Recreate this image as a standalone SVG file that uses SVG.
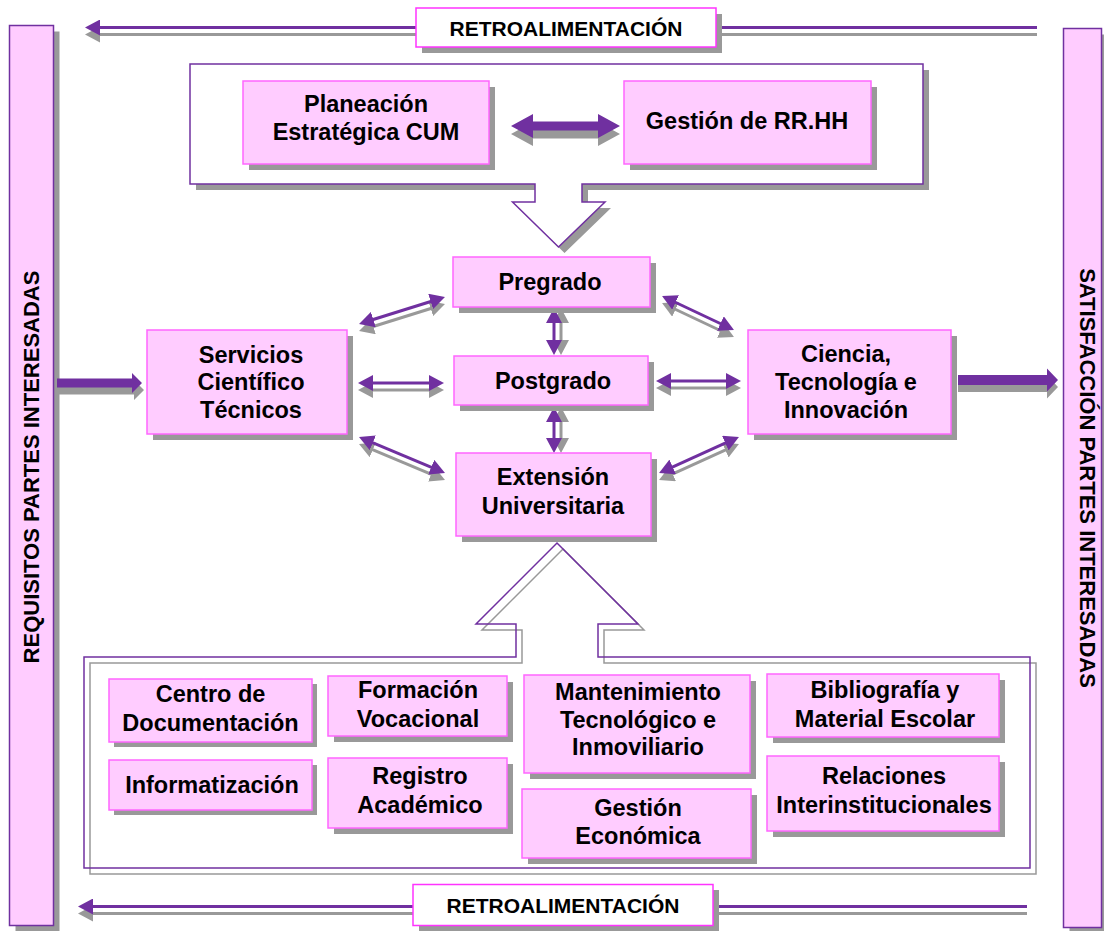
<svg xmlns="http://www.w3.org/2000/svg" width="1104" height="931" viewBox="0 0 1104 931">
<defs>
<style>
.bg{fill:#FFCCFF;stroke:#FF66FF;stroke-width:1.5}
.sh{fill:#999999}
.col{fill:#FFCCFF;stroke:#7030A0;stroke-width:1.5}
.lbl{fill:#FFFFFF;stroke:#FF33FF;stroke-width:1.5}
.t{font-family:"Liberation Sans",Arial,sans-serif;font-weight:bold;font-size:23.5px;fill:#000;text-anchor:middle}
.tl{font-family:"Liberation Sans",Arial,sans-serif;font-weight:bold;font-size:21px;fill:#000;text-anchor:middle}
.tv{font-family:"Liberation Sans",Arial,sans-serif;font-weight:bold;font-size:22px;fill:#000;text-anchor:middle}
.lp{stroke:#7030A0;stroke-width:3;fill:none}
.lg{stroke:#999999;stroke-width:3;fill:none}
.ap{fill:#7030A0}
</style>
<marker id="hp" markerUnits="userSpaceOnUse" markerWidth="15" markerHeight="16" viewBox="0 0 15 16" refX="1" refY="8" orient="auto-start-reverse"><path d="M0,0 L15,8 L0,16 Z" fill="#7030A0"/></marker>
<marker id="hg" markerUnits="userSpaceOnUse" markerWidth="15" markerHeight="16" viewBox="0 0 15 16" refX="1" refY="8" orient="auto-start-reverse"><path d="M0,0 L15,8 L0,16 Z" fill="#999999"/></marker>
</defs>
<rect width="1104" height="931" fill="#FFFFFF"/>

<!-- side columns -->
<g id="col-requisitos">
<rect class="sh" x="15.5" y="31.5" width="44" height="900"/>
<rect class="col" x="9.5" y="25.5" width="44" height="900"/>
<text class="tv" transform="translate(39,467) rotate(-90)">REQUISITOS PARTES INTERESADAS</text>
</g>
<g id="col-satisfaccion">
<rect class="sh" x="1069.5" y="34.5" width="38" height="899"/>
<rect class="col" x="1063.5" y="28.5" width="38" height="899"/>
<text class="tv" transform="translate(1080,478) rotate(90)">SATISFACCIÓN PARTES INTERESADAS</text>
</g>

<!-- feedback lines -->
<g id="feedback-lines">
<line class="lg" x1="99" y1="34.5" x2="1037" y2="34.5" stroke-width="2.5" marker-start="url(#hg)"/>
<line class="lp" x1="99" y1="27.5" x2="1037" y2="27.5" stroke-width="2.5" marker-start="url(#hp)"/>
<line class="lg" x1="92" y1="913.5" x2="1027" y2="913.5" stroke-width="2.5" marker-start="url(#hg)"/>
<line class="lp" x1="92" y1="906.5" x2="1027" y2="906.5" stroke-width="2.5" marker-start="url(#hp)"/>
</g>
<g id="retro-top">
<rect class="sh" x="422" y="14" width="300" height="39"/>
<rect class="lbl" x="416" y="8" width="300" height="39"/>
<text class="tl" x="566" y="36">RETROALIMENTACIÓN</text>
</g>
<g id="retro-bottom">
<rect class="sh" x="419" y="890" width="300" height="41"/>
<rect class="lbl" x="413" y="884.5" width="300" height="41"/>
<text class="tl" x="563" y="913">RETROALIMENTACIÓN</text>
</g>

<!-- top strategic container with down arrow -->
<g id="strategic-container">
<path class="sh" transform="translate(6,6)" d="M190,64 H923 V184 H582 V202 H605 L558.5,247 L512.5,202 H535 V184 H190 Z"/>
<path d="M190,64 H923 V184 H582 V202 H605 L558.5,247 L512.5,202 H535 V184 H190 Z" fill="#FFFFFF" stroke="#7030A0" stroke-width="1.5"/>
</g>

<!-- bottom support container with up arrow -->
<g id="support-container">
<path transform="translate(6,6)" d="M84,657 H516 V624 H476 L557,543 L638,624 H598 V657 H1030 V868 H84 Z" fill="none" stroke="#999999" stroke-width="1.5"/>
<path d="M84,657 H516 V624 H476 L557,543 L638,624 H598 V657 H1030 V868 H84 Z" fill="none" stroke="#7030A0" stroke-width="1.5"/>
</g>

<!-- connectors -->
<g id="connectors">
<polygon class="sh" transform="translate(0,8)" points="511,126 533,114 533,121.5 598,121.5 598,114 620,126 598,138 598,130.5 533,130.5 533,138"/>
<polygon class="ap" points="511,126 533,114 533,121.5 598,121.5 598,114 620,126 598,138 598,130.5 533,130.5 533,138"/>
<polygon class="sh" transform="translate(2,7)" points="57,378.5 132,378.5 132,373 142,383 132,393 132,387.5 57,387.5"/>
<polygon class="ap" points="57,378.5 132,378.5 132,373 142,383 132,393 132,387.5 57,387.5"/>
<polygon class="sh" transform="translate(0,7)" points="958,375 1047,375 1047,368.5 1058,380 1047,391.5 1047,385 958,385"/>
<polygon class="ap" points="958,375 1047,375 1047,368.5 1058,380 1047,391.5 1047,385 958,385"/>

<g class="shadows">
<line class="lg" x1="372.4" y1="326.8" x2="431.6" y2="308.2" marker-start="url(#hg)" marker-end="url(#hg)"/>
<line class="lg" x1="372" y1="390" x2="430" y2="390" marker-start="url(#hg)" marker-end="url(#hg)"/>
<line class="lg" x1="371.9" y1="449.4" x2="432.1" y2="474.6" marker-start="url(#hg)" marker-end="url(#hg)"/>
<line class="lg" x1="674.7" y1="309" x2="721.3" y2="331" marker-start="url(#hg)" marker-end="url(#hg)"/>
<line class="lg" x1="670" y1="388" x2="727" y2="388" marker-start="url(#hg)" marker-end="url(#hg)"/>
<line class="lg" x1="671.8" y1="474.3" x2="726.2" y2="449.7" marker-start="url(#hg)" marker-end="url(#hg)"/>
<line class="lg" x1="561" y1="322" x2="561" y2="341" marker-start="url(#hg)" marker-end="url(#hg)"/>
<line class="lg" x1="561" y1="421" x2="561" y2="439" marker-start="url(#hg)" marker-end="url(#hg)"/>
</g>
<line class="lp" x1="372.4" y1="319.8" x2="431.6" y2="301.2" marker-start="url(#hp)" marker-end="url(#hp)"/>
<line class="lp" x1="372" y1="383" x2="430" y2="383" marker-start="url(#hp)" marker-end="url(#hp)"/>
<line class="lp" x1="371.9" y1="442.4" x2="432.1" y2="467.6" marker-start="url(#hp)" marker-end="url(#hp)"/>
<line class="lp" x1="674.7" y1="302" x2="721.3" y2="324" marker-start="url(#hp)" marker-end="url(#hp)"/>
<line class="lp" x1="670" y1="381" x2="727" y2="381" marker-start="url(#hp)" marker-end="url(#hp)"/>
<line class="lp" x1="671.8" y1="467.3" x2="726.2" y2="442.7" marker-start="url(#hp)" marker-end="url(#hp)"/>
<line class="lp" x1="554" y1="322" x2="554" y2="341" marker-start="url(#hp)" marker-end="url(#hp)"/>
<line class="lp" x1="554" y1="421" x2="554" y2="439" marker-start="url(#hp)" marker-end="url(#hp)"/>
</g>

<!-- nodes -->
<g id="n-planeacion">
<rect class="sh" x="249" y="87" width="246" height="83"/>
<rect class="bg" x="243" y="81" width="246" height="83"/>
<text class="t" x="366" y="111.5">Planeación<tspan x="366" y="140">Estratégica CUM</tspan></text>
</g>
<g id="n-gestion-rrhh">
<rect class="sh" x="630" y="87" width="247" height="83"/>
<rect class="bg" x="624" y="81" width="247" height="83"/>
<text class="t" x="747" y="128.5">Gestión de RR.HH</text>
</g>
<g id="n-pregrado">
<rect class="sh" x="459" y="263" width="197" height="50"/>
<rect class="bg" x="453" y="257" width="197" height="50"/>
<text class="t" x="550" y="290">Pregrado</text>
</g>
<g id="n-postgrado">
<rect class="sh" x="460" y="362" width="194" height="49"/>
<rect class="bg" x="454" y="356" width="194" height="49"/>
<text class="t" x="553" y="388.5">Postgrado</text>
</g>
<g id="n-extension">
<rect class="sh" x="462" y="459" width="195" height="83"/>
<rect class="bg" x="456" y="453" width="195" height="83"/>
<text class="t" x="553" y="485">Extensión<tspan x="553" y="513.5">Universitaria</tspan></text>
</g>
<g id="n-servicios">
<rect class="sh" x="153" y="336" width="200" height="104"/>
<rect class="bg" x="147" y="330" width="200" height="104"/>
<text class="t" x="251" y="362.5">Servicios<tspan x="251" y="390">Científico</tspan><tspan x="251" y="418">Técnicos</tspan></text>
</g>
<g id="n-ciencia">
<rect class="sh" x="754" y="336" width="203" height="104"/>
<rect class="bg" x="748" y="330" width="203" height="104"/>
<text class="t" x="846" y="361.5">Ciencia,<tspan x="846" y="390">Tecnología e</tspan><tspan x="846" y="418">Innovación</tspan></text>
</g>
<g id="n-centro-documentacion">
<rect class="sh" x="114" y="684" width="203" height="63"/>
<rect class="bg" x="109" y="679" width="203" height="63"/>
<text class="t" x="210.5" y="702">Centro de<tspan x="210.5" y="731">Documentación</tspan></text>
</g>
<g id="n-formacion-vocacional">
<rect class="sh" x="334" y="682" width="179" height="60"/>
<rect class="bg" x="328" y="676" width="179" height="60"/>
<text class="t" x="418" y="698">Formación<tspan x="418" y="727">Vocacional</tspan></text>
</g>
<g id="n-informatizacion">
<rect class="sh" x="114" y="765" width="203" height="50"/>
<rect class="bg" x="109" y="760" width="203" height="50"/>
<text class="t" x="212" y="793">Informatización</text>
</g>
<g id="n-registro-academico">
<rect class="sh" x="334" y="764" width="179" height="70"/>
<rect class="bg" x="328" y="758" width="179" height="70"/>
<text class="t" x="420" y="784">Registro<tspan x="420" y="813">Académico</tspan></text>
</g>
<g id="n-mantenimiento">
<rect class="sh" x="530" y="681" width="226" height="98"/>
<rect class="bg" x="524" y="675" width="226" height="98"/>
<text class="t" x="638" y="700">Mantenimiento<tspan x="638" y="727.5">Tecnológico e</tspan><tspan x="638" y="755">Inmoviliario</tspan></text>
</g>
<g id="n-gestion-economica">
<rect class="sh" x="528" y="795" width="229" height="69"/>
<rect class="bg" x="522" y="789" width="229" height="69"/>
<text class="t" x="638" y="816">Gestión<tspan x="638" y="844">Económica</tspan></text>
</g>
<g id="n-bibliografia">
<rect class="sh" x="773" y="680" width="232" height="63"/>
<rect class="bg" x="767" y="674" width="232" height="63"/>
<text class="t" x="885" y="698">Bibliografía y<tspan x="885" y="727">Material Escolar</tspan></text>
</g>
<g id="n-relaciones">
<rect class="sh" x="773" y="762" width="232" height="75"/>
<rect class="bg" x="767" y="756" width="232" height="75"/>
<text class="t" x="884" y="784">Relaciones<tspan x="884" y="812.5">Interinstitucionales</tspan></text>
</g>
</svg>
